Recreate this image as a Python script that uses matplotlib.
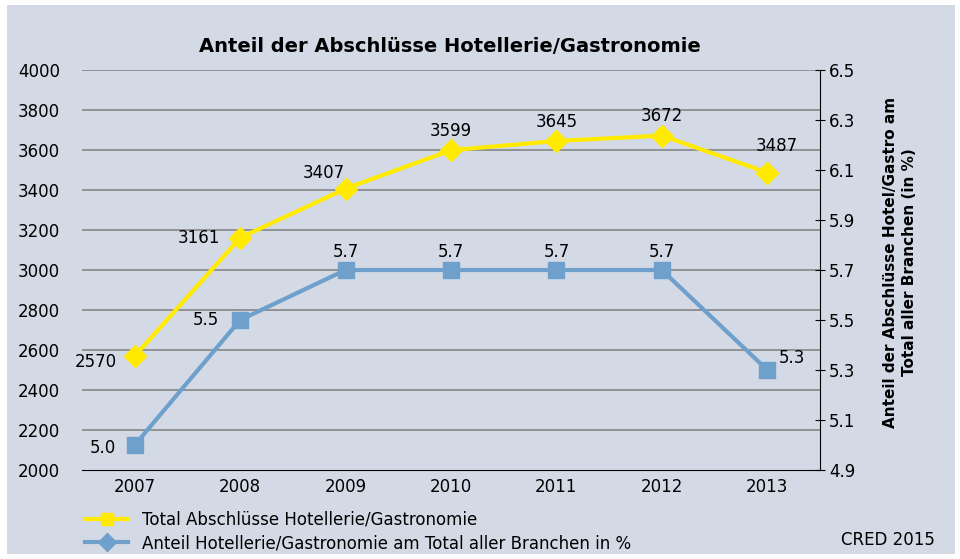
import matplotlib.pyplot as plt
from matplotlib.lines import Line2D
from matplotlib.patches import Rectangle

# data
years = ["2007", "2008", "2009", "2010", "2011", "2012", "2013"]
total = [2570, 3161, 3407, 3599, 3645, 3672, 3487]
share = [5.0, 5.5, 5.7, 5.7, 5.7, 5.7, 5.3]

left_ticks = list(range(2000, 4001, 200))
right_ticks = [4.9, 5.1, 5.3, 5.5, 5.7, 5.9, 6.1, 6.3, 6.5]

BG = "#D3DAE6"
YELLOW = "#FFEA00"
BLUE = "#6F9FCB"

fig = plt.figure(figsize=(9.6, 5.59), dpi=100, facecolor="white")
fig.patches.append(Rectangle((7 / 960, 5 / 559), 948 / 960, 549 / 559,
                             transform=fig.transFigure, facecolor=BG,
                             edgecolor="none", zorder=-10))

ax = fig.add_axes([82 / 960, 1 - 470 / 559, 738 / 960, 400 / 559])
ax.set_facecolor("none")
ax2 = ax.twinx()

x = list(range(len(years)))

ax.plot(x, total, color=YELLOW, lw=3, marker="D", ms=11, zorder=3)
ax2.plot(x, share, color=BLUE, lw=3, marker="s", ms=11, zorder=3)

ax.set_xlim(-0.5, 6.5)
ax.set_ylim(2000, 4000)
ax2.set_ylim(4.9, 6.5)
ax.set_yticks(left_ticks)
ax2.set_yticks(right_ticks)
ax2.set_yticklabels([f"{t:.1f}" for t in right_ticks])
ax.set_xticks(x)
ax.set_xticklabels(years)

for t in left_ticks[1:]:
    ax.axhline(t, color="#8C8C8C", lw=1.3, zorder=1)

for s in ["left", "top", "right"]:
    ax.spines[s].set_visible(False)
ax.spines["bottom"].set_color("black")
for s in ["left", "top", "bottom"]:
    ax2.spines[s].set_visible(False)
ax2.spines["right"].set_color("black")

ax.tick_params(axis="x", length=0, labelsize=12, pad=6)
ax.tick_params(axis="y", length=0, labelsize=12, pad=16)
ax2.tick_params(axis="y", length=7, direction="inout", labelsize=12, pad=3)

# value labels
yoff = [(-28, -4), (-30, 0), (-16, 11), (0, 14), (0, 14), (0, 14), (7, 19)]
for i, v in enumerate(total):
    dx, dy = yoff[i]
    ax.annotate(str(v), (i, v), xytext=(dx, dy), textcoords="offset points",
                ha="center", va="center", fontsize=12)
boff = [(-23, -2), (-25, 0), (0, 13), (0, 13), (0, 13), (0, 13), (18, 9)]
for i, v in enumerate(share):
    dx, dy = boff[i]
    ax2.annotate(f"{v:.1f}", (i, v), xytext=(dx, dy), textcoords="offset points",
                 ha="center", va="center", fontsize=12)

fig.text(450 / 960, 1 - 46 / 559, "Anteil der Abschlüsse Hotellerie/Gastronomie",
         ha="center", va="center", fontsize=14, fontweight="bold")

fig.text(900 / 960, 1 - 262 / 559,
         "Anteil der Abschlüsse Hotel/Gastro am\nTotal aller Branchen (in %)",
         rotation=90, ha="center", va="center", fontsize=11, fontweight="bold",
         linespacing=1.3)

handles = [
    Line2D([], [], color=YELLOW, lw=3, marker="s", ms=9),
    Line2D([], [], color=BLUE, lw=3, marker="D", ms=9),
]
labels = ["Total Abschlüsse Hotellerie/Gastronomie",
          "Anteil Hotellerie/Gastronomie am Total aller Branchen in %"]
fig.legend(handles, labels, loc="lower left", bbox_to_anchor=(70 / 960, -8 / 559),
           frameon=False, prop={"size": 12},
           handlelength=2.6, handletextpad=0.8, labelspacing=0.3)

fig.text(935 / 960, 1 - 540 / 559, "CRED 2015", ha="right", va="center",
         fontsize=12)

fig.savefig("out.png", dpi=100, facecolor="white")
